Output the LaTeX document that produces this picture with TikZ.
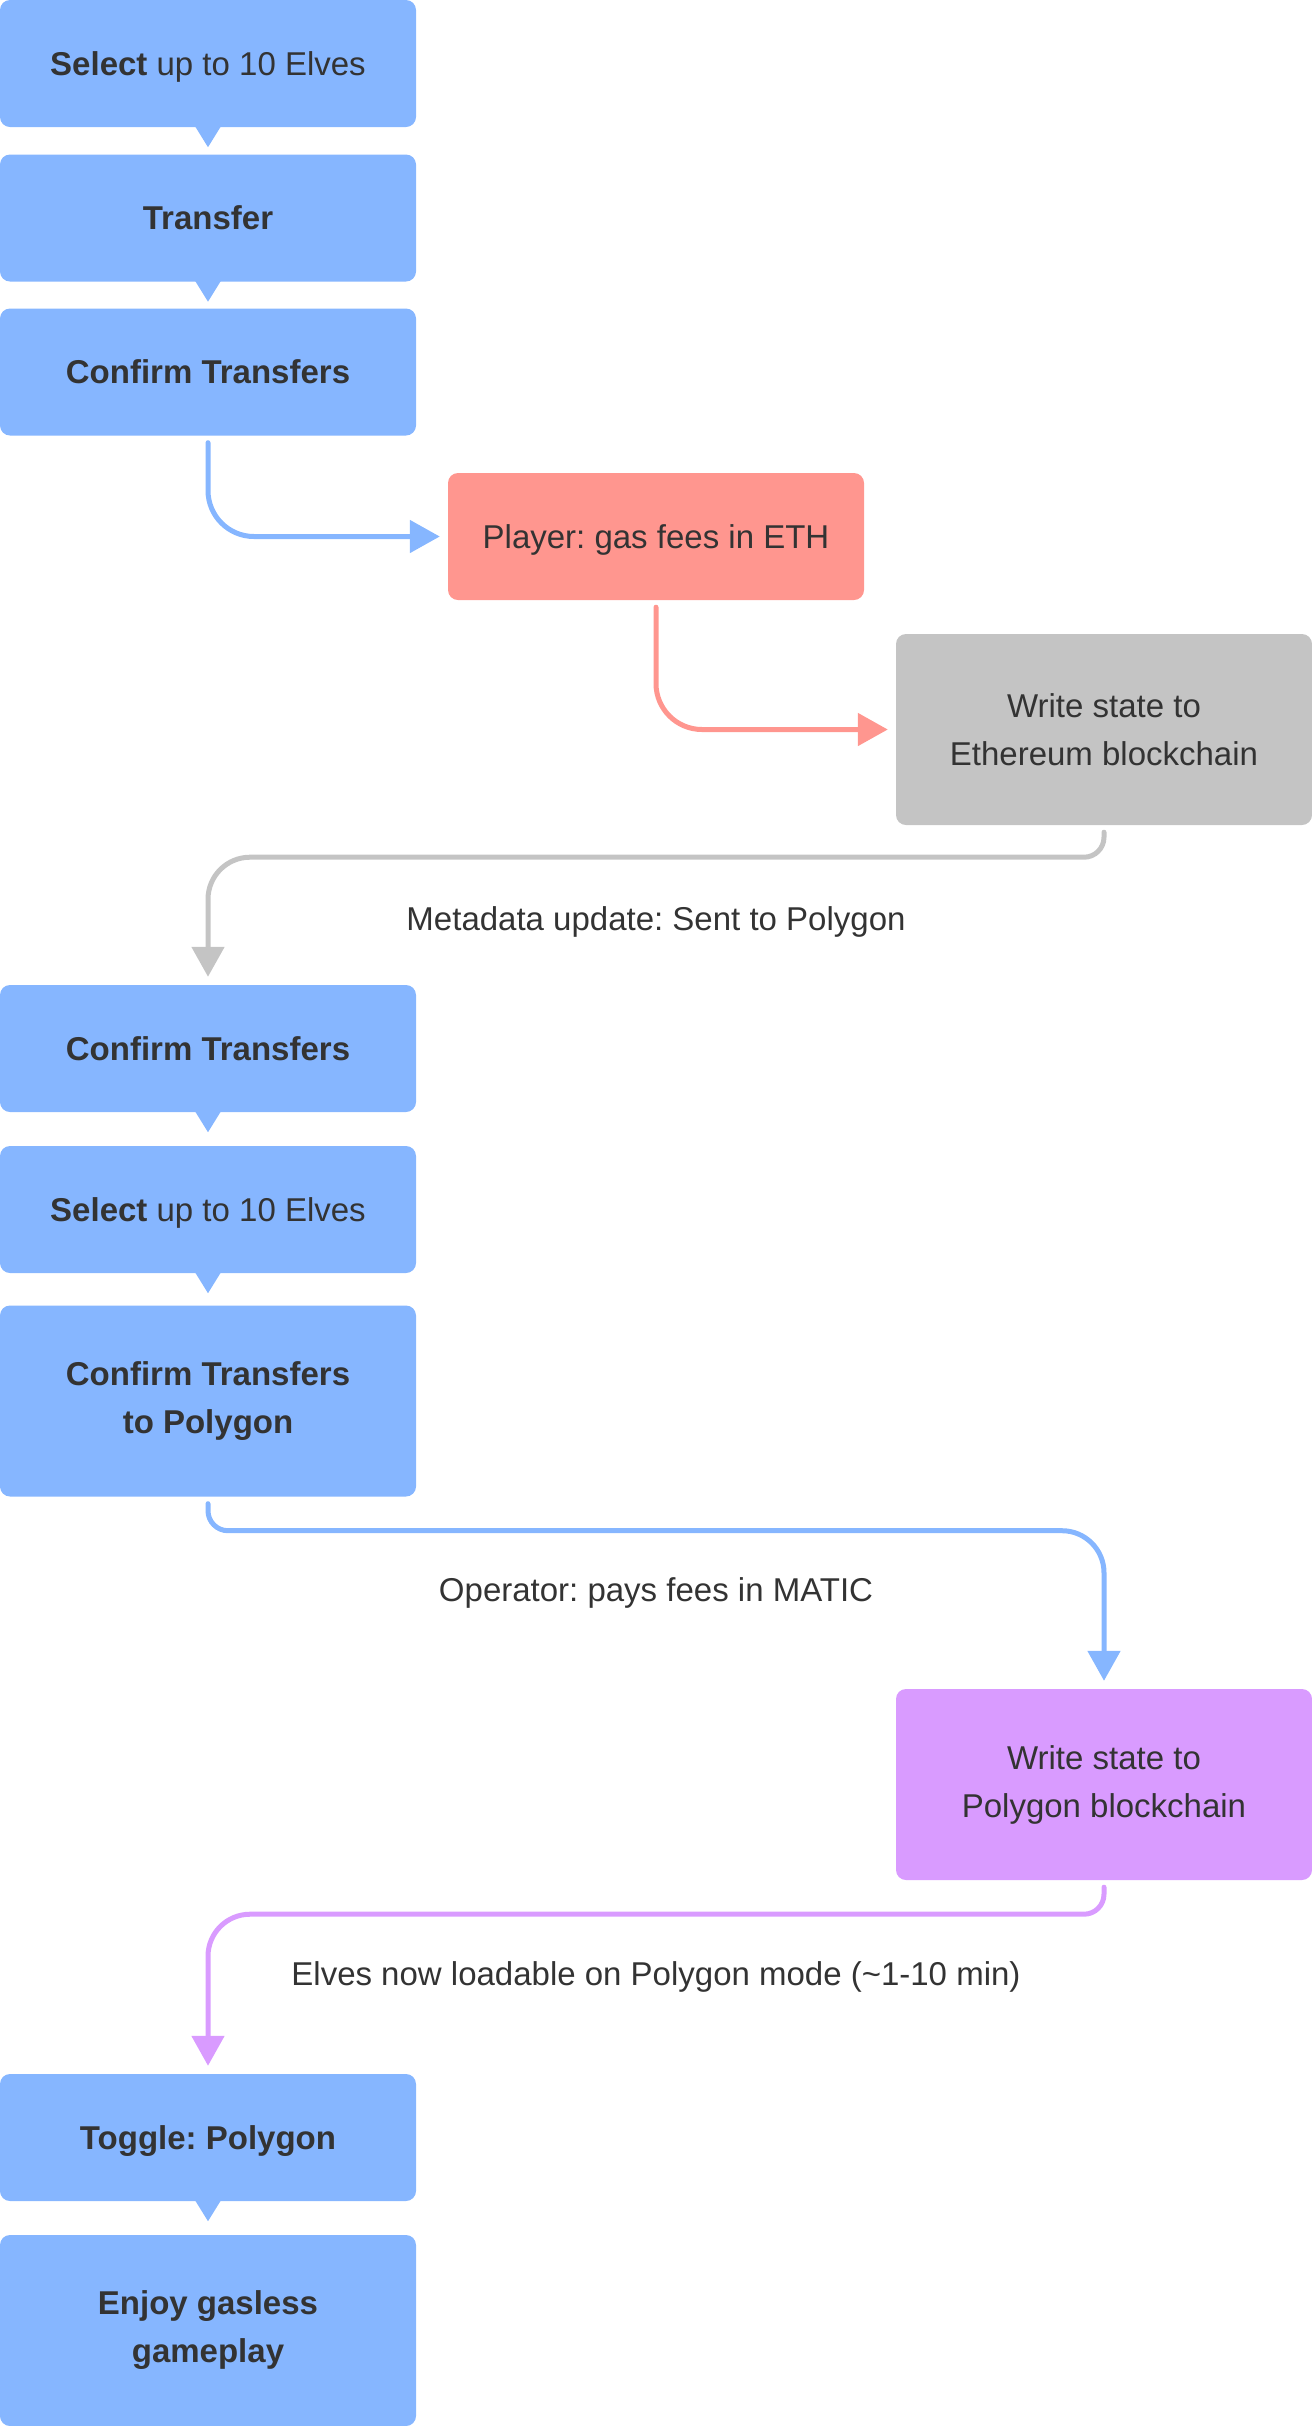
\documentclass[tikz,border=0pt]{standalone}
\usepackage{fontspec}
\setmainfont{Liberation Sans}
\frenchspacing
\usetikzlibrary{arrows.meta,calc}
\definecolor{stepblue}{RGB}{134,182,255}
\definecolor{ethred}{RGB}{255,150,143}
\definecolor{chaingray}{RGB}{196,196,196}
\definecolor{polypurple}{RGB}{217,155,255}
\definecolor{inkgray}{RGB}{51,51,51}
\tikzset{
  card/.style={rounded corners=10pt, inner sep=0pt, minimum width=416pt, text=inkgray, align=center, font=\fontsize{33}{48}\selectfont},
  shortcard/.style={card, minimum height=127pt, text depth=0pt},
  tallcard/.style={card, minimum height=191pt},
  uicard/.style={fill=stepblue, font=\fontsize{33}{48}\selectfont\bfseries},
  flow/.style={line width=5pt, line cap=round, -{Triangle[length=30pt,width=32pt]}, shorten <=7pt, shorten >=8pt},
  note/.style={text=inkgray, font=\fontsize{33}{40}\selectfont},
}
% small pointer under a step card
\newcommand{\cardtail}[1]{\fill[stepblue] ($(#1.south)+(-13,-1)$) -- ($(#1.south)+(13,-1)$) -- ($(#1.south)+(0,20)$) -- cycle;}
\begin{document}
\begin{tikzpicture}[x=1pt,y=-1pt]
  \useasboundingbox (0,0) rectangle (1312,2426);
  % ethereum side
  \node[shortcard,uicard] (select1) at (208,63.5) {Select {\mdseries up to 10 Elves}};
  \node[shortcard,uicard] (transfer) at (208,218) {Transfer};
  \node[shortcard,uicard] (confirm1) at (208,372) {Confirm Transfers};
  \node[shortcard,fill=ethred] (gas) at (656,536.5) {Player: gas fees in ETH};
  \node[tallcard,fill=chaingray] (ethchain) at (1104,729.5) {Write state to\\Ethereum blockchain};
  \node[note] (metalbl) at (656,922) {Metadata update: Sent to Polygon};
  % polygon side
  \node[shortcard,uicard] (confirm2) at (208,1048.5) {Confirm Transfers};
  \node[shortcard,uicard] (select2) at (208,1209.5) {Select {\mdseries up to 10 Elves}};
  \node[tallcard,uicard] (confirm3) at (208,1401) {Confirm Transfers\\to Polygon};
  \node[note] (oplbl) at (656,1593) {Operator: pays fees in MATIC};
  \node[tallcard,fill=polypurple] (polychain) at (1104,1784.5) {Write state to\\Polygon blockchain};
  \node[note] (elveslbl) at (656,1977) {Elves now loadable on Polygon mode (\textasciitilde1-10 min)};
  \node[shortcard,uicard] (toggle) at (208,2137.5) {Toggle: Polygon};
  \node[tallcard,uicard] (enjoy) at (208,2330.5) {Enjoy gasless\\gameplay};

  \cardtail{select1}
  \cardtail{transfer}
  \cardtail{confirm2}
  \cardtail{select2}
  \cardtail{toggle}

  \draw[flow,stepblue,rounded corners=46pt] (confirm1.south) |- (gas.west);
  \draw[flow,ethred,rounded corners=46pt] (gas.south) |- (ethchain.west);
  \draw[flow,chaingray] (ethchain.south) [rounded corners=20pt] -- ++(0,32) coordinate (g1) [rounded corners=42pt] -- (g1 -| confirm2.north) -- (confirm2.north);
  \draw[flow,stepblue] (confirm3.south) [rounded corners=20pt] -- ++(0,34) coordinate (b1) [rounded corners=42pt] -- (b1 -| polychain.north) -- (polychain.north);
  \draw[flow,polypurple] (polychain.south) [rounded corners=20pt] -- ++(0,34) coordinate (p1) [rounded corners=42pt] -- (p1 -| toggle.north) -- (toggle.north);
\end{tikzpicture}
\end{document}
